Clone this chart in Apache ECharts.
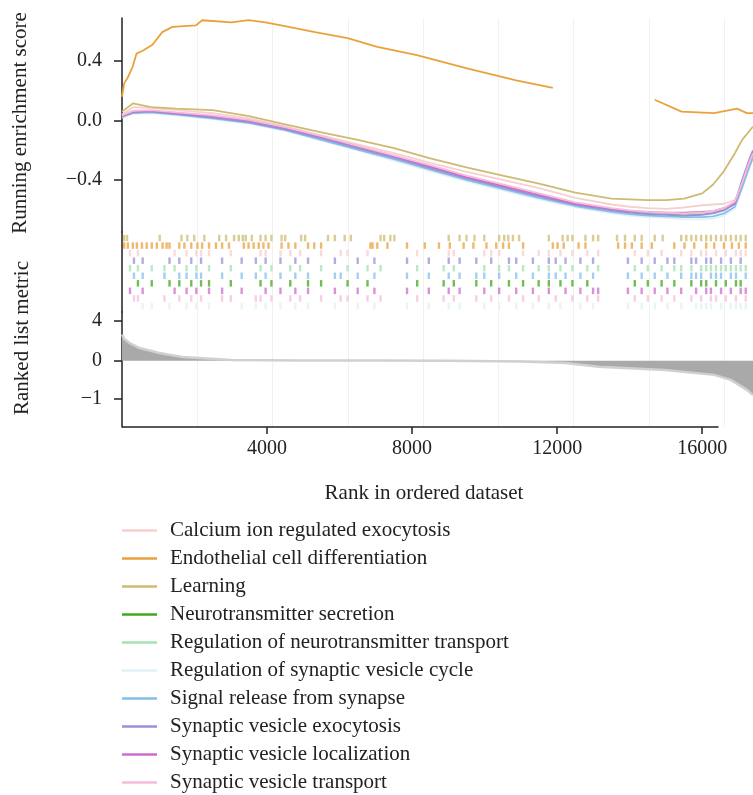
<!DOCTYPE html>
<html>
<head>
<meta charset="utf-8">
<title>GSEA running score</title>
<script src="https://cdn.jsdelivr.net/npm/echarts@6/dist/echarts.min.js"></script>
<style>
html, body { margin: 0; padding: 0; background: #fff; }
#chart { width: 753px; height: 795px; }
</style>
</head>
<body>
<div id="chart"></div>
<script>
// gene sets, in legend order
const geneSets = [
  'Calcium ion regulated exocytosis',
  'Endothelial cell differentiation',
  'Learning',
  'Neurotransmitter secretion',
  'Regulation of neurotransmitter transport',
  'Regulation of synaptic vesicle cycle',
  'Signal release from synapse',
  'Synaptic vesicle exocytosis',
  'Synaptic vesicle localization',
  'Synaptic vesicle transport'
]
const setColors = ['#f8cfcf', '#e9a23b', '#cdbb72', '#3fa81b', '#a6e2b2',
  '#dff2f6', '#85bfe8', '#9a90da', '#cb6fcb', '#f5bddc']

const xTicks = [4000, 8000, 12000, 16000]
const esTicks = [-0.4, 0, 0.4]
const metricTicks = [4, 0, -1]

// running enrichment score (shared rank grid)
const esRanks = [0, 300, 800, 1500, 2500, 3500, 4500, 5500, 6500, 7500, 8500, 9500, 10500,
  11500, 12500, 13500, 14000, 14500, 15000, 15500, 16000, 16300, 16600, 16900, 17100, 17300, 17400]
const esCalcium = [0.04, 0.09, 0.085, 0.07, 0.05, 0.015, -0.04, -0.1, -0.16, -0.22, -0.285, -0.345, -0.4,
  -0.455, -0.52, -0.565, -0.58, -0.59, -0.595, -0.585, -0.57, -0.565, -0.56, -0.535, -0.44, -0.3, -0.25]
const esLearning = [0.06, 0.115, 0.09, 0.08, 0.07, 0.03, -0.025, -0.08, -0.13, -0.185, -0.255, -0.315, -0.37,
  -0.425, -0.485, -0.525, -0.53, -0.535, -0.535, -0.525, -0.49, -0.43, -0.34, -0.22, -0.13, -0.07, -0.04]
const esNeuroSecretion = [0.03, 0.055, 0.06, 0.045, 0.025, -0.005, -0.055, -0.115, -0.18, -0.245, -0.315, -0.385, -0.445,
  -0.505, -0.56, -0.6, -0.615, -0.625, -0.63, -0.635, -0.63, -0.62, -0.6, -0.56, -0.42, -0.28, -0.22]
const esRegNeuroTransport = [0.035, 0.06, 0.065, 0.05, 0.028, -0.002, -0.052, -0.112, -0.177, -0.242, -0.312, -0.38, -0.44,
  -0.5, -0.555, -0.595, -0.61, -0.62, -0.625, -0.63, -0.625, -0.615, -0.595, -0.55, -0.41, -0.27, -0.21]
const esRegVesCycle = [0.02, 0.045, 0.05, 0.035, 0.01, -0.02, -0.07, -0.135, -0.2, -0.27, -0.34, -0.41, -0.47,
  -0.53, -0.585, -0.625, -0.64, -0.65, -0.655, -0.665, -0.665, -0.66, -0.64, -0.59, -0.46, -0.32, -0.26]
const esSignalRelease = [0.025, 0.05, 0.055, 0.04, 0.015, -0.015, -0.065, -0.13, -0.195, -0.26, -0.33, -0.4, -0.46,
  -0.52, -0.575, -0.615, -0.63, -0.64, -0.645, -0.65, -0.65, -0.645, -0.625, -0.58, -0.45, -0.31, -0.25]
const esVesExocytosis = [0.03, 0.055, 0.06, 0.045, 0.02, -0.01, -0.06, -0.12, -0.185, -0.25, -0.32, -0.39, -0.45,
  -0.51, -0.565, -0.605, -0.62, -0.63, -0.635, -0.64, -0.635, -0.625, -0.605, -0.56, -0.4, -0.26, -0.2]
const esVesLocalization = [0.03, 0.06, 0.065, 0.05, 0.03, 0.0, -0.05, -0.11, -0.175, -0.24, -0.31, -0.38, -0.44,
  -0.5, -0.56, -0.595, -0.61, -0.615, -0.62, -0.62, -0.615, -0.61, -0.59, -0.555, -0.42, -0.28, -0.22]
const esVesTransport = [0.035, 0.065, 0.07, 0.055, 0.035, 0.005, -0.045, -0.105, -0.17, -0.235, -0.3, -0.37, -0.43,
  -0.49, -0.55, -0.59, -0.605, -0.615, -0.62, -0.625, -0.62, -0.61, -0.59, -0.545, -0.42, -0.28, -0.22]

// endothelial curve has its own ranks (and a gap)
const endoRanks = [0, 60, 160, 290, 400, 570, 840, 1110, 1390, 2040, 2210, 3020, 3490, 3950, 4390, 5320,
  6220, 7040, 8130, 9540, 10870, 11880, 11890, 14690, 15430, 16330, 16960, 17230, 17400]
const esEndothelial = [0.16, 0.25, 0.29, 0.36, 0.45, 0.47, 0.51, 0.595, 0.63, 0.64, 0.675, 0.66, 0.675, 0.66, 0.64, 0.595,
  0.555, 0.495, 0.44, 0.35, 0.27, 0.22, null, 0.14, 0.06, 0.05, 0.08, 0.05, 0.05]

// hit positions (ranks) per gene set
const hitsCalcium = [220, 440, 1450, 1780, 2050, 2180, 2400, 3000, 3820, 3960, 4370, 4640, 4910, 5490, 6030, 6220, 6770,
  8140, 9010, 9150, 9990, 10180, 10400, 11060, 11490, 11770, 12090, 12420, 12830, 13130, 14140, 14500, 14880, 15420,
  15700, 15970, 16110, 16380, 16650, 16930, 17060, 17200]
const hitsEndothelial = [60, 160, 300, 410, 550, 680, 820, 960, 1120, 1230, 1310, 1580, 1720, 1910, 2080, 2210, 2400, 2590,
  2760, 2950, 3360, 3490, 3630, 3770, 3900, 4040, 4400, 4590, 4780, 5130, 5300, 5490, 6850, 6910, 7040, 7320, 7860, 8350,
  8740, 9040, 9420, 9690, 10050, 10320, 10510, 10670, 11060, 11880, 12010, 12180, 12590, 12780, 13680, 13870, 14060,
  14330, 14610, 15230, 15510, 15780, 16110, 16330, 16600, 16820, 17010, 17200]
const hitsLearning = [60, 140, 1040, 1640, 1800, 1990, 2270, 2680, 2870, 3090, 3220, 3330, 3410, 3580, 3820, 3960, 4120,
  4400, 4500, 4940, 5050, 5680, 5870, 6140, 6310, 7130, 7230, 7400, 7510, 9010, 9310, 9500, 9720, 9990, 10400, 10540,
  10650, 10780, 10950, 11770, 12150, 12290, 12420, 12780, 12990, 13130, 13650, 13870, 14140, 14330, 14690, 14910, 15420,
  15560, 15700, 15830, 15970, 16110, 16240, 16380, 16520, 16650, 16790, 16930, 17060, 17200]
const hitsNeuroSecretion = [440, 820, 1310, 1580, 1910, 2180, 2400, 3000, 3820, 4120, 4640, 5130, 5490, 6220, 6770, 8140,
  8870, 9150, 9770, 10180, 10670, 11060, 11490, 11770, 12090, 12420, 12830, 14140, 14500, 14880, 15230, 15700, 15970,
  16110, 16380, 16650, 16930, 17060]
const hitsRegNeuroTransport = [220, 440, 820, 1170, 1450, 1780, 2050, 2400, 3000, 3820, 4120, 4640, 4910, 5490, 6220, 6770,
  7130, 8140, 8870, 9150, 9990, 10400, 10670, 11060, 11490, 11770, 12090, 12420, 12830, 13130, 14140, 14500, 14880,
  15230, 15420, 15700, 15970, 16110, 16240, 16380, 16520, 16650, 16790, 16930, 17060, 17200]
const hitsRegVesCycle = [570, 820, 1310, 1780, 2050, 2400, 3300, 3690, 3960, 4370, 4780, 5130, 5870, 6500, 6960, 7860,
  8460, 9010, 9310, 9990, 10400, 10870, 11330, 11770, 12090, 12640, 12990, 13950, 14330, 14690, 15040, 15420, 15830,
  15970, 16110, 16240, 16520, 16790, 16930, 17060, 17200]
const hitsSignalRelease = [330, 570, 1170, 1580, 1780, 2050, 2180, 2760, 3300, 3690, 3960, 4370, 4780, 5130, 5870, 6030,
  6500, 6960, 7860, 8460, 9010, 9310, 9770, 9990, 10400, 10870, 11330, 11770, 11960, 12230, 12640, 12990, 13950, 14330,
  14690, 15040, 15420, 15700, 15830, 15970, 16240, 16380, 16520, 16790, 16930, 17200]
const hitsVesExocytosis = [330, 570, 1310, 1580, 1910, 2180, 2760, 3300, 3690, 3960, 4370, 4780, 5130, 5870, 6500, 6960,
  7860, 8460, 9010, 9310, 9770, 10180, 10670, 10870, 11330, 11770, 11960, 12230, 12640, 12990, 13950, 14330, 14690,
  15040, 15230, 15700, 15830, 16110, 16240, 16520, 16790, 17060]
const hitsVesLocalization = [220, 570, 1450, 1780, 2050, 2400, 2760, 3300, 3960, 4370, 4780, 5130, 5870, 6500, 6960, 7860,
  8460, 9010, 9310, 9990, 10400, 10870, 11330, 11770, 12230, 12640, 12990, 13130, 13950, 14330, 14690, 15040, 15420,
  15830, 16110, 16240, 16520, 16790, 17060, 17200]
const hitsVesTransport = [330, 440, 1170, 1580, 1910, 2180, 2760, 3000, 3690, 3820, 4120, 4640, 4910, 5490, 6030, 6220,
  6770, 7130, 8140, 8870, 9150, 9770, 10180, 10670, 11060, 11490, 11960, 12420, 12830, 13130, 14140, 14500, 14880,
  15230, 15700, 15970, 16240, 16380, 16650, 16930, 17200]

// ranked list metric
const metricRanks = [0, 60, 210, 485, 1030, 1660, 3020, 5000, 7000, 9000, 11000, 12240, 13140, 14970, 16330, 16790, 17230, 17400]
const metricValues = [2.6, 2.2, 1.77, 1.27, 0.77, 0.37, 0.07, 0.03, 0.01, 0.0, -0.02, -0.06, -0.16, -0.24, -0.37, -0.5, -0.76, -0.9]

const esSeries = [esCalcium, esEndothelial, esLearning, esNeuroSecretion, esRegNeuroTransport,
  esRegVesCycle, esSignalRelease, esVesExocytosis, esVesLocalization, esVesTransport]
const hitSeries = [hitsCalcium, hitsEndothelial, hitsLearning, hitsNeuroSecretion, hitsRegNeuroTransport,
  hitsRegVesCycle, hitsSignalRelease, hitsVesExocytosis, hitsVesLocalization, hitsVesTransport]
// hit rows, top to bottom
const hitRowOf = [2, 1, 0, 6, 4, 9, 5, 3, 7, 8]

const rankMax = 17400
const posScale = 3.83 // metric axis is compressed above zero
const toMetricAxis = v => (v >= 0 ? v / posScale : v)
const minus = s => String(s).replace('-', '\u2212')
const serif = '"Liberation Serif", "DejaVu Serif", serif'
const ink = '#222'

const plotLeft = 122
const plotWidth = 637
const gridSpacing = 76 // faint vertical guide spacing, px

const chart = echarts.init(document.getElementById('chart'), null, { renderer: 'canvas' })

const series = []
geneSets.forEach((name, i) => {
  const ranks = i === 1 ? endoRanks : esRanks
  series.push({
    name,
    type: 'line',
    xAxisIndex: 0,
    yAxisIndex: 0,
    symbol: 'none',
    connectNulls: false,
    lineStyle: { width: 1.8, color: setColors[i] },
    itemStyle: { color: setColors[i] },
    z: 3,
    data: ranks.map((r, k) => [r, esSeries[i][k]])
  })
})
geneSets.forEach((name, i) => {
  series.push({
    name: 'hits ' + name,
    type: 'scatter',
    xAxisIndex: 1,
    yAxisIndex: 1,
    symbol: 'rect',
    symbolSize: [2.4, 6.5],
    itemStyle: { color: setColors[i], opacity: 0.75 },
    silent: true,
    data: hitSeries[i].map(r => [r, hitRowOf[i] + 0.5])
  })
})
series.push({
  name: 'metric',
  type: 'line',
  xAxisIndex: 2,
  yAxisIndex: 2,
  symbol: 'none',
  lineStyle: { width: 2.5, color: '#d0d0d0' },
  areaStyle: { color: '#a9a9a9', opacity: 1 },
  data: metricRanks.map((r, k) => [r, toMetricAxis(metricValues[k])]),
  markLine: {
    silent: true,
    symbol: 'none',
    label: { show: false },
    lineStyle: { color: ink, width: 1.5, type: 'solid' },
    data: [[{ coord: [0, -1.731] }, { coord: [16450, -1.731] }]]
  }
})

const hiddenX = {
  type: 'value', min: 0, max: rankMax, show: false
}
const guideX = gridIndex => ({
  type: 'value', gridIndex, min: 0, max: plotWidth / gridSpacing, interval: 1,
  axisLine: { show: false }, axisTick: { show: false }, axisLabel: { show: false },
  splitLine: { show: true, lineStyle: { color: '#f1f1f1', width: 1 } }
})

chart.setOption({
  animation: false,
  backgroundColor: '#fff',
  textStyle: { fontFamily: serif },
  grid: [
    { left: plotLeft, top: 18, width: plotWidth, height: 214 },
    { left: plotLeft, top: 232, width: plotWidth, height: 80 },
    { left: plotLeft, top: 312, width: plotWidth, height: 115 }
  ],
  xAxis: [
    Object.assign({ gridIndex: 0 }, hiddenX),
    Object.assign({ gridIndex: 1 }, hiddenX),
    {
      type: 'value',
      gridIndex: 2,
      min: 0,
      max: rankMax,
      axisLine: { show: false, onZero: false },
      axisTick: { show: true, length: 7, lineStyle: { color: ink, width: 1.5 }, customValues: xTicks },
      axisLabel: { color: ink, fontSize: 20, fontFamily: serif, margin: 12, customValues: xTicks, formatter: v => String(v) },
      splitLine: { show: false }
    },
    guideX(0), guideX(1), guideX(2)
  ],
  yAxis: [
    {
      type: 'value',
      gridIndex: 0,
      min: -0.75,
      max: 0.69,
      axisLine: { show: true, lineStyle: { color: ink, width: 1.5 } },
      axisTick: { show: true, length: 8, lineStyle: { color: ink, width: 1.5 }, customValues: esTicks },
      axisLabel: {
        color: ink, fontSize: 20, fontFamily: serif, margin: 20, customValues: esTicks,
        formatter: v => minus(v.toFixed(1))
      },
      splitLine: { show: false }
    },
    {
      type: 'value',
      gridIndex: 1,
      min: -0.3,
      max: 10.3,
      inverse: true,
      axisLine: { show: true, lineStyle: { color: ink, width: 1.5 } },
      axisTick: { show: false },
      axisLabel: { show: false },
      splitLine: { show: false }
    },
    {
      type: 'value',
      gridIndex: 2,
      min: -1.731,
      max: 1.272,
      axisLine: { show: true, lineStyle: { color: ink, width: 1.5 } },
      axisTick: { show: true, length: 8, lineStyle: { color: ink, width: 1.5 }, customValues: metricTicks.map(toMetricAxis) },
      axisLabel: {
        color: ink, fontSize: 20, fontFamily: serif, margin: 20, customValues: metricTicks.map(toMetricAxis),
        formatter: v => minus(v > 0 ? Math.round(v * posScale) : v)
      },
      splitLine: { show: false }
    }
  ],
  legend: {
    data: geneSets,
    orient: 'vertical',
    left: 122,
    top: 520,
    height: 290,
    padding: 0,
    icon: 'rect',
    itemWidth: 35,
    itemHeight: 2.5,
    itemGap: 7,
    selectedMode: false,
    textStyle: { color: ink, fontSize: 21, fontFamily: serif, padding: [0, 0, 0, 8] }
  },
  graphic: [
    {
      type: 'text', x: 20, y: 123, rotation: Math.PI / 2,
      style: { text: 'Running enrichment score', font: '21px ' + serif, fill: ink, textAlign: 'center', textVerticalAlign: 'middle' }
    },
    {
      type: 'text', x: 22, y: 338, rotation: Math.PI / 2,
      style: { text: 'Ranked list metric', font: '21px ' + serif, fill: ink, textAlign: 'center', textVerticalAlign: 'middle' }
    },
    {
      type: 'text', x: 424, y: 493,
      style: { text: 'Rank in ordered dataset', font: '21px ' + serif, fill: ink, textAlign: 'center', textVerticalAlign: 'middle' }
    }
  ],
  series
})
</script>
</body>
</html>
